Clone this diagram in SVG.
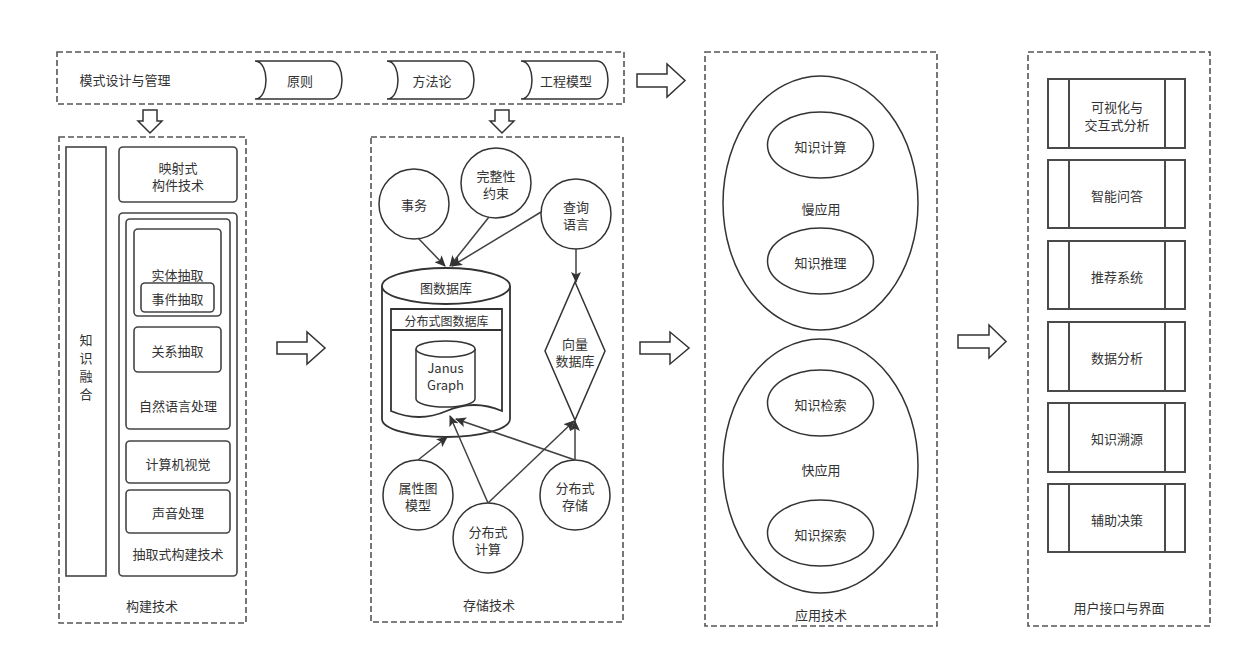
<svg xmlns="http://www.w3.org/2000/svg" width="1235" height="658" viewBox="0 0 1235 658">
  <style>
    text { font-family: "Noto Sans CJK SC", "Noto Sans", sans-serif; font-size: 13px; fill: #333; text-anchor: middle; dominant-baseline: central; }
    .panel { fill: none; stroke: #555; stroke-width: 1.6; stroke-dasharray: 6 3; }
    .box { fill: #fff; stroke: #444; stroke-width: 1.6; }
    .shape { fill: #fff; stroke: #333; stroke-width: 1.5; }
    .thick { fill: #fff; stroke: #333; stroke-width: 1.8; }
    .proc { fill: #fff; stroke: #4a4a4a; stroke-width: 2; }
    .blk { fill: #fff; stroke: #333; stroke-width: 1.5; stroke-linejoin: miter; }
    .edge { fill: none; stroke: #404040; stroke-width: 1.5; marker-end: url(#ah); }
  </style>
  <defs>
    <marker id="ah" markerWidth="11" markerHeight="10" refX="10" refY="5" orient="auto" markerUnits="userSpaceOnUse">
      <path d="M0,0 L11,5 L0,10 L2.5,5 Z" fill="#333"/>
    </marker>
  </defs>

  <rect width="1235" height="658" fill="#fff"/>

  <!-- top banner: schema design and management -->
  <g id="banner">
    <rect class="panel" x="57" y="52" width="567" height="52"/>
    <text x="125" y="79">模式设计与管理</text>
  </g>
  <g id="principle">
    <path class="shape" d="M255,61 H331 C339,61 342,72 342,80 C342,88 339,99 331,99 H255 C263,99 266,88 266,80 C266,72 263,61 255,61 Z"/>
    <text x="300" y="80">原则</text>
  </g>
  <g id="methodology">
    <path class="shape" d="M387,61 H463 C471,61 474,72 474,80 C474,88 471,99 463,99 H387 C395,99 398,88 398,80 C398,72 395,61 387,61 Z"/>
    <text x="432" y="80">方法论</text>
  </g>
  <g id="engineering-model">
    <path class="shape" d="M521,61 H597 C605,61 608,72 608,80 C608,88 605,99 597,99 H521 C529,99 532,88 532,80 C532,72 529,61 521,61 Z"/>
    <text x="566" y="80">工程模型</text>
  </g>

  <!-- block arrows between layers -->
  <g id="flow-arrows">
    <path class="blk" d="M637,74 H667 V64 L685,80.5 L667,97 V87 H637 Z"/>
    <path class="blk" d="M143,110 H157 V121 H162 L150,133 L138,121 H143 Z"/>
    <path class="blk" d="M495,110 H509 V121 H514 L502,133 L490,121 H495 Z"/>
    <path class="blk" d="M277,342 H307 V332 L325,348 L307,364 V354 H277 Z"/>
    <path class="blk" d="M640,342 H670 V332 L689,348 L670,364 V354 H640 Z"/>
    <path class="blk" d="M958,335 H989 V325 L1006,341.5 L989,358 V348 H958 Z"/>
  </g>

  <!-- construction technology -->
  <g id="construction">
    <rect class="panel" x="59" y="137" width="187" height="486"/>
    <text x="152" y="605">构建技术</text>
  </g>
  <g id="knowledge-fusion">
    <rect class="box" x="66" y="147" width="40" height="429"/>
    <text x="86" y="339">知</text>
    <text x="86" y="357">识</text>
    <text x="86" y="375">融</text>
    <text x="86" y="393">合</text>
  </g>
  <g id="mapping">
    <rect class="box" x="119" y="147" width="118" height="55" rx="4"/>
    <text x="178" y="167">映射式</text>
    <text x="178" y="184">构件技术</text>
  </g>
  <g id="extraction">
    <rect class="box" x="119" y="213" width="118" height="363" rx="4"/>
    <text x="178" y="553">抽取式构建技术</text>
  </g>
  <g id="nlp">
    <rect class="box" x="126" y="219" width="104" height="210" rx="4"/>
    <text x="178" y="405">自然语言处理</text>
  </g>
  <g id="entity-extraction">
    <rect class="box" x="134" y="229" width="87" height="87" rx="4"/>
    <text x="177.5" y="274">实体抽取</text>
  </g>
  <g id="event-extraction">
    <rect class="box" x="141" y="283" width="73" height="29" rx="4"/>
    <text x="177.5" y="298">事件抽取</text>
  </g>
  <g id="relation-extraction">
    <rect class="box" x="134" y="327" width="87" height="45" rx="4"/>
    <text x="177.5" y="350">关系抽取</text>
  </g>
  <g id="vision">
    <rect class="box" x="126" y="441" width="104" height="42" rx="4"/>
    <text x="178" y="463">计算机视觉</text>
  </g>
  <g id="audio">
    <rect class="box" x="126" y="490" width="104" height="43" rx="4"/>
    <text x="178" y="512">声音处理</text>
  </g>

  <!-- storage technology -->
  <g id="storage">
    <rect class="panel" x="371" y="137" width="252" height="485"/>
    <text x="489" y="604">存储技术</text>
  </g>
  <g id="transaction">
    <circle class="shape" cx="414" cy="204" r="35"/>
    <text x="414" y="204">事务</text>
  </g>
  <g id="integrity">
    <circle class="shape" cx="496" cy="183" r="35"/>
    <text x="496" y="175">完整性</text>
    <text x="496" y="192">约束</text>
  </g>
  <g id="query-language">
    <circle class="shape" cx="576" cy="214" r="35"/>
    <text x="576" y="206">查询</text>
    <text x="576" y="223">语言</text>
  </g>
  <g id="graph-db">
    <path class="thick" d="M382,286 A64,18 0 0 1 510,286 V419 A64,18 0 0 1 382,419 Z"/>
    <path class="thick" fill="none" d="M382,286 A64,18 0 0 0 510,286"/>
    <text x="446" y="287">图数据库</text>
  </g>
  <g id="distributed-graph-db">
    <path class="thick" d="M391,309 H502 V411 Q474,399 446.5,411 Q419,423 391,411 Z"/>
    <line x1="391" y1="330" x2="502" y2="330" stroke="#333" stroke-width="1.8"/>
    <text x="446.5" y="320" style="font-size:12px">分布式图数据库</text>
  </g>
  <g id="janusgraph">
    <path class="shape" d="M416,349 A29.5,8 0 0 1 475,349 V399 A29.5,8 0 0 1 416,399 Z"/>
    <path class="shape" fill="none" d="M416,349 A29.5,8 0 0 0 475,349"/>
    <text x="445.5" y="367">Janus</text>
    <text x="445.5" y="384">Graph</text>
  </g>
  <g id="vector-db">
    <path class="shape" d="M575,282 L605,351 L575,420 L545,351 Z"/>
    <text x="575" y="343">向量</text>
    <text x="575" y="360">数据库</text>
  </g>
  <g id="property-graph">
    <circle class="shape" cx="418" cy="495" r="35"/>
    <text x="418" y="487">属性图</text>
    <text x="418" y="504">模型</text>
  </g>
  <g id="distributed-compute">
    <circle class="shape" cx="488" cy="538" r="35"/>
    <text x="488" y="531">分布式</text>
    <text x="488" y="548">计算</text>
  </g>
  <g id="distributed-storage">
    <circle class="shape" cx="575" cy="495" r="35"/>
    <text x="575" y="487">分布式</text>
    <text x="575" y="504">存储</text>
  </g>

  <!-- connectors inside the storage layer -->
  <g id="connectors">
    <path class="edge" d="M418,238 L445,266"/>
    <path class="edge" d="M489,217 L450,266"/>
    <path class="edge" d="M541,212 L452,266"/>
    <path class="edge" d="M576,249 L576,282"/>
    <path class="edge" d="M418,460 L447,437"/>
    <path class="edge" d="M488,503 L450,416"/>
    <path class="edge" d="M488,503 L574,421"/>
    <path class="edge" d="M575,460 L575,421"/>
    <path class="edge" d="M575,460 L456,419"/>
  </g>

  <!-- application technology -->
  <g id="application">
    <rect class="panel" x="705" y="52" width="232" height="574"/>
    <text x="821" y="614">应用技术</text>
  </g>
  <g id="slow-app">
    <ellipse class="shape" cx="820.5" cy="203" rx="97.5" ry="127"/>
    <text x="821" y="208">慢应用</text>
  </g>
  <g id="knowledge-computing">
    <ellipse class="shape" cx="820.5" cy="145" rx="53" ry="33"/>
    <text x="820.5" y="146">知识计算</text>
  </g>
  <g id="knowledge-reasoning">
    <ellipse class="shape" cx="820.5" cy="261" rx="53" ry="33"/>
    <text x="820.5" y="262">知识推理</text>
  </g>
  <g id="fast-app">
    <ellipse class="shape" cx="820.5" cy="466" rx="97.5" ry="127"/>
    <text x="821" y="469">快应用</text>
  </g>
  <g id="knowledge-retrieval">
    <ellipse class="shape" cx="820.5" cy="403" rx="53" ry="33"/>
    <text x="820.5" y="404">知识检索</text>
  </g>
  <g id="knowledge-exploration">
    <ellipse class="shape" cx="820.5" cy="533" rx="53" ry="33"/>
    <text x="820.5" y="534">知识探索</text>
  </g>

  <!-- user interface -->
  <g id="ui">
    <rect class="panel" x="1028" y="52" width="182" height="574"/>
    <text x="1119" y="607">用户接口与界面</text>
  </g>
  <g id="visual-analysis">
    <rect class="proc" x="1048" y="79" width="137" height="69"/>
    <path class="proc" d="M1069,79 V148 M1165,79 V148"/>
    <text x="1117" y="106">可视化与</text>
    <text x="1117" y="124">交互式分析</text>
  </g>
  <g id="qa">
    <rect class="proc" x="1048" y="160" width="137" height="68"/>
    <path class="proc" d="M1069,160 V228 M1165,160 V228"/>
    <text x="1117" y="195">智能问答</text>
  </g>
  <g id="recommend">
    <rect class="proc" x="1048" y="241" width="137" height="68"/>
    <path class="proc" d="M1069,241 V309 M1165,241 V309"/>
    <text x="1117" y="276">推荐系统</text>
  </g>
  <g id="data-analysis">
    <rect class="proc" x="1048" y="322" width="137" height="69"/>
    <path class="proc" d="M1069,322 V391 M1165,322 V391"/>
    <text x="1117" y="357">数据分析</text>
  </g>
  <g id="provenance">
    <rect class="proc" x="1048" y="403" width="137" height="69"/>
    <path class="proc" d="M1069,403 V472 M1165,403 V472"/>
    <text x="1117" y="438">知识溯源</text>
  </g>
  <g id="decision">
    <rect class="proc" x="1048" y="484" width="137" height="68"/>
    <path class="proc" d="M1069,484 V552 M1165,484 V552"/>
    <text x="1117" y="519">辅助决策</text>
  </g>
</svg>
